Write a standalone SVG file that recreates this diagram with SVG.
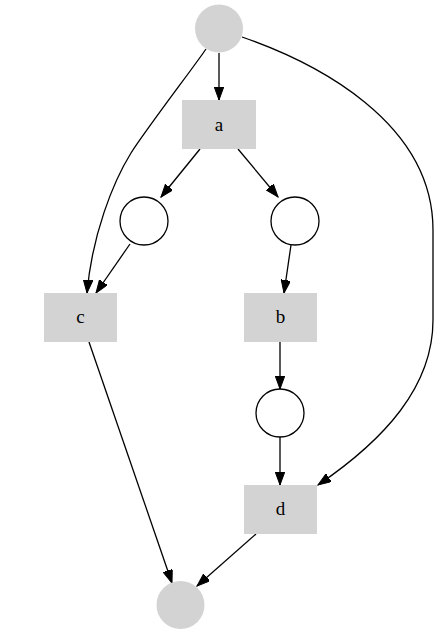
<svg xmlns="http://www.w3.org/2000/svg" width="439" height="635" viewBox="0 0 439 635">
<style>
.place{fill:#fff;stroke:#000;stroke-width:1.3}
.term{fill:#d3d3d3;stroke:none}
.trans{fill:#d3d3d3;stroke:none}
.lbl{font-family:"Liberation Serif","Times New Roman",serif;font-size:19px;fill:#000;text-anchor:middle}
.edge{fill:none;stroke:#000;stroke-width:1.3;marker-end:url(#arr)}
</style>
<defs>
<marker id="arr" markerUnits="userSpaceOnUse" markerWidth="14" markerHeight="10" refX="13" refY="4.75" orient="auto">
<path d="M0,0 L13,4.75 L0,9.5 z" fill="#000" stroke="#000" stroke-width="1"/>
</marker>
</defs>
<rect width="439" height="635" fill="#fff"/>
<g id="edges">
<path class="edge" d="M219,53 L219,100"/>
<path class="edge" d="M206,49 C196,64 147,128 131,153 C113,182 92,235 87,293"/>
<path class="edge" d="M242,37 C314,62 433,121 433,230 L433,320 C433,387 384,440 318,485"/>
<path class="edge" d="M200,149 L161,197"/>
<path class="edge" d="M238,149 L278,197"/>
<path class="edge" d="M130,244 L96,293"/>
<path class="edge" d="M291,245 L284,293"/>
<path class="edge" d="M89,342 L172,583"/>
<path class="edge" d="M280,342 L280,389"/>
<path class="edge" d="M280,437 L280,485"/>
<path class="edge" d="M256,534 L197,586"/>
</g>
<g id="start"><circle class="term" cx="219" cy="28.5" r="24"/></g>
<g id="a"><rect class="trans" x="182" y="100" width="74" height="49"/><text class="lbl" x="219" y="130.5">a</text></g>
<g id="p1"><circle class="place" cx="144" cy="221" r="24"/></g>
<g id="p2"><circle class="place" cx="295" cy="221" r="24"/></g>
<g id="c"><rect class="trans" x="44" y="293" width="73" height="49"/><text class="lbl" x="80.5" y="323">c</text></g>
<g id="b"><rect class="trans" x="244" y="293" width="73" height="49"/><text class="lbl" x="280.5" y="323">b</text></g>
<g id="p3"><circle class="place" cx="280" cy="413" r="24"/></g>
<g id="d"><rect class="trans" x="244" y="485" width="73" height="49"/><text class="lbl" x="280.5" y="515">d</text></g>
<g id="end"><circle class="term" cx="180.5" cy="605" r="24"/></g>
</svg>
